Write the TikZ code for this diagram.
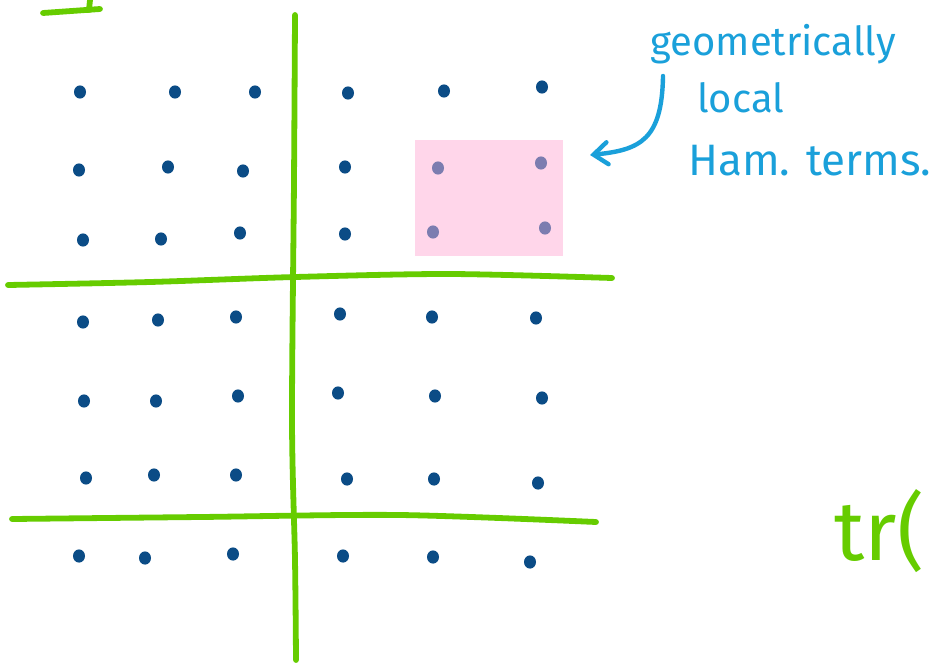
\documentclass[tikz,border=0pt]{standalone}
\usepackage{fontspec}
\setsansfont{Fira Sans}
\usetikzlibrary{positioning,arrows.meta}
\definecolor{pengreen}{HTML}{66CC00}
\definecolor{dotblue}{HTML}{0B4C86}
\definecolor{notepink}{HTML}{FFD6EA}
\definecolor{dotmix}{HTML}{7C7DB0}
\definecolor{noteblue}{HTML}{1AA0DA}

\begin{document}
\begin{tikzpicture}[
  x=0.5pt, y=-0.5pt,
  font=\sffamily,
  pen/.style={draw=pengreen, line width=2.9pt, line cap=round, line join=round},
  site/.style={fill=dotblue},
  note/.style={text=noteblue, font=\sffamily\fontsize{20}{22}\selectfont, anchor=base west, inner sep=0pt},
  arr/.style={draw=noteblue, line width=2.2pt, line cap=round,
              -{Straight Barb[length=7pt,width=11pt,line cap=round]}}
]
\useasboundingbox (0,0) rectangle (935,664);
\clip (0,0) rectangle (935,664);

% highlighted plaquette
\node[fill=notepink, minimum width=74pt, minimum height=58pt, inner sep=0pt] (plaq) at (489,198) {};

% lattice sites
\foreach \px/\py in {80/92,175/92,255/92,348/93,444/91,542/87,
                     79/170,168/167,243/171,345/167,
                     83/240,161/239,240/233,345/234,
                     83/322,158/320,236/317,340/314,432/317,536/318,
                     84/401,156/401,238/396,338/393,435/396,542/398,
                     86/478,154/475,236/475,347/479,434/479,538/483,
                     79/556,145/558,233/554,343/556,433/557,530/562}
  \fill[site] (\px,\py) ellipse (3pt and 3.3pt);
\foreach \px/\py in {438/168,541/163,433/232,545/228}
  \fill[dotmix] (\px,\py) ellipse (3pt and 3.3pt);

% green cuts
\draw[pen] plot[smooth] coordinates {(295,15) (294,180) (292,420) (295,560) (296,660)};
\draw[pen] plot[smooth] coordinates {(8,285) (150,282) (295,277) (450,274) (612,278)};
\draw[pen] plot[smooth] coordinates {(12,519) (200,517) (400,515) (596,522)};
\draw[pen] (43,13) -- (100,9);
\draw[pen] (89,10) -- (90,0);

% annotation
\node[note] (geo) at (650,55) {geometrically};
\node[note] (loc) at (697,112) {local};
\node[note, font=\sffamily\fontsize{22}{24}\selectfont] (ham) at (688,175) {Ham. terms.};
\coordinate (tail) at (663,76);
\coordinate (tip) at (590,155);
\draw[arr] (tail) .. controls (662,140) and (640,150) .. (tip);

\node[text=pengreen, font=\sffamily\fontsize{42}{46}\selectfont, anchor=base west, inner sep=0pt] (trace) at (834,560) {tr(};
\end{tikzpicture}
\end{document}
